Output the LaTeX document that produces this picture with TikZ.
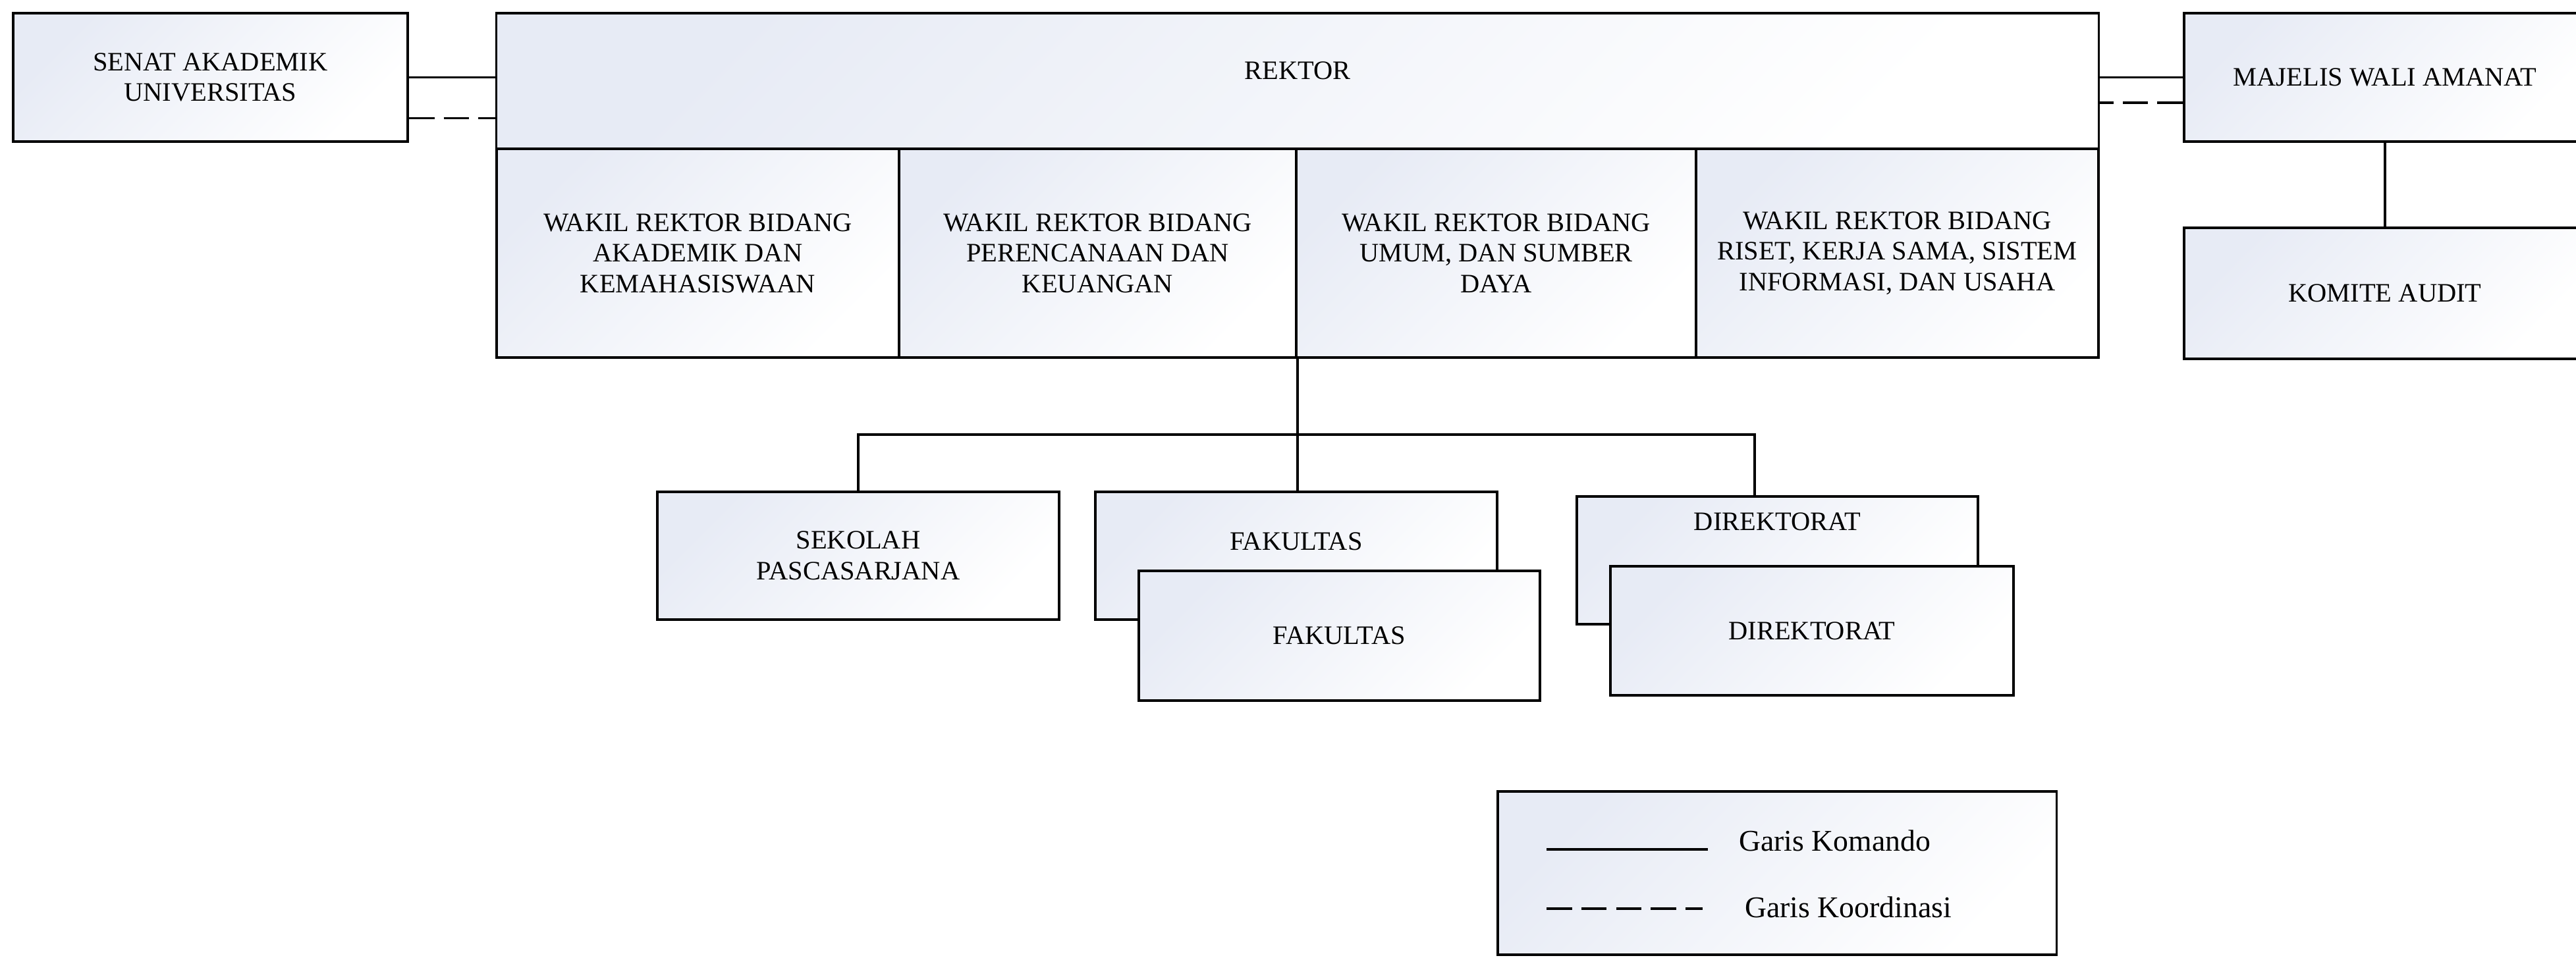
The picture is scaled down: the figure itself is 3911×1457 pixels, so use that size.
\documentclass[tikz,border=0pt]{standalone}
\usepackage{fontspec}
\setmainfont{Liberation Serif}
\usetikzlibrary{positioning}
\definecolor{boxtint}{RGB}{231,235,245}

\begin{document}
\begin{tikzpicture}[x=0.01cm, y=-0.01cm,
        font=\fontsize{11.5}{13.2}\selectfont,
        unit/.style={draw, line width=1pt, inner sep=0pt, align=center,
            top color=boxtint, bottom color=white, shading angle=45},
        komando/.style={line width=1pt},
        koord/.style={line width=1pt, dash pattern=on 11pt off 4pt}]
        \useasboundingbox (0,0) rectangle (3911,1457);
        % Top row
        \node[unit, minimum width=5.99cm, minimum height=1.95cm] (senat) at (319.5,117.5) {SENAT AKADEMIK\\UNIVERSITAS};
        \node[unit, minimum width=24.32cm, minimum height=2.06cm, label={[name=rektortxt, yshift=0.16cm]center:REKTOR}] (rektor) at (1970,123) {};
        \node[unit, minimum width=6.10cm, minimum height=1.95cm] (mwa) at (3621,117.5) {MAJELIS WALI AMANAT};
        \node[unit, minimum width=6.10cm, minimum height=1.99cm] (komite) at (3621,445.5) {KOMITE AUDIT};
        % Wakil rektor
        \node[unit, minimum width=6.11cm, minimum height=3.17cm] (wr1) at (1059.5,384.5) {WAKIL REKTOR BIDANG\\AKADEMIK DAN\\KEMAHASISWAAN};
        \node[unit, minimum width=6.03cm, minimum height=3.17cm] (wr2) at (1666.5,384.5) {WAKIL REKTOR BIDANG\\PERENCANAAN DAN\\KEUANGAN};
        \node[unit, minimum width=6.07cm, minimum height=3.17cm] (wr3) at (2271.5,384.5) {WAKIL REKTOR BIDANG\\UMUM, DAN SUMBER\\DAYA};
        \node[unit, minimum width=6.11cm, minimum height=3.17cm] (wr4) at (2880.5,384.5) {WAKIL REKTOR BIDANG\\RISET, KERJA SAMA, SISTEM\\INFORMASI, DAN USAHA};
        % Units below
        \node[unit, minimum width=6.10cm, minimum height=1.94cm] (sps) at (1303,844) {SEKOLAH\\PASCASARJANA};
        \node[unit, minimum width=6.10cm, minimum height=1.94cm, label={[name=fak1txt, yshift=0.22cm]center:FAKULTAS}] (fak1) at (1968,844) {};
        \node[unit, minimum width=6.09cm, minimum height=1.97cm] (fak2) at (2033.5,965.5) {FAKULTAS};
        \node[unit, minimum width=6.09cm, minimum height=1.94cm, label={[name=dir1txt, yshift=0.59cm]center:DIREKTORAT}] (dir1) at (2698.5,851) {};
        \node[unit, minimum width=6.12cm, minimum height=1.96cm] (dir2) at (2751,958) {DIREKTORAT};
        % Lines
        \draw[komando] (senat.east) -- (senat.east -| rektor.west);
        \coordinate (sdash) at ([yshift=-0.62cm]senat.east);
        \draw[koord] (sdash) -- (sdash -| rektor.west);
        \draw[komando] (mwa.west) -- (mwa.west -| rektor.east);
        \coordinate (mdash) at ([yshift=-0.385cm]mwa.west);
        \draw[koord] (mdash) -- (mdash -| rektor.east);
        \draw[komando] (mwa) -- (komite);
        \coordinate (bus) at (1968,660);
        \coordinate (dirtop) at ([xshift=-0.345cm]dir1.north);
        \draw[komando] (wr2.south east) -- (wr2.south east |- fak1.north);
        \draw[komando] (sps.north) |- (bus) -| (dirtop);
        % Legend
        \node[unit, minimum width=8.48cm, minimum height=2.48cm] (leg) at (2698,1326) {};
        \coordinate (k1) at (2348,1290);
        \coordinate (k2) at (2593,1290);
        \coordinate (c1) at (2348,1380);
        \coordinate (c2) at (2585,1380);
        \draw[komando] (k1) -- (k2);
        \draw[koord] (c1) -- (c2);
        \node[anchor=west, font=\fontsize{13}{15}\selectfont] (tkom) at (2628,1277) {Garis Komando};
        \node[anchor=west, font=\fontsize{13}{15}\selectfont] (tkoord) at (2637,1378) {Garis Koordinasi};
    \end{tikzpicture}
\end{document}
